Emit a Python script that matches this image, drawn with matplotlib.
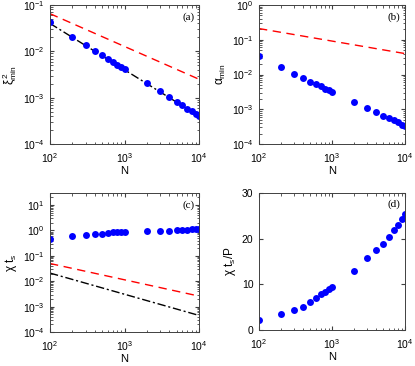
import numpy as np
import matplotlib.pyplot as plt

# ============================== DATA ==============================
N = [100, 200, 300, 400, 500, 600, 700, 800, 900, 1000,
     2000, 3000, 4000, 5000, 6000, 7000, 8000, 9000, 10000]

xi2_min = [0.042, 0.020, 0.0135, 0.0102, 0.0082, 0.0070, 0.0058, 0.0051, 0.0045, 0.0041,
           0.0021, 0.0014, 0.00102, 0.00082, 0.00068, 0.00058, 0.00051, 0.00045, 0.00041]
alpha_min = [0.033, 0.016, 0.0105, 0.0080, 0.0062, 0.0052, 0.0046, 0.0039, 0.0036, 0.0032,
             0.0016, 0.0011, 0.00082, 0.00065, 0.00055, 0.00050, 0.00042, 0.00036, 0.00034]
chi_ts = [0.45, 0.58, 0.68, 0.73, 0.76, 0.80, 0.85, 0.87, 0.87, 0.87,
          0.95, 0.97, 0.99, 1.05, 1.07, 1.08, 1.10, 1.12, 1.15]
chi_ts_P = [2.2, 3.4, 4.4, 5.1, 6.1, 6.9, 7.9, 8.4, 9.0, 9.4,
            13.0, 15.8, 17.5, 18.9, 20.4, 22.0, 23.1, 24.4, 25.4]

# reference lines (endpoints at N=1e2 and N=1e4)
Nref = [100, 10000]
a_red = [0.065, 0.0025]
a_black = [0.040, 0.0004]
b_red = [0.21, 0.040]
c_red = [0.050, 0.0026]
c_black = [0.021, 0.00045]

# ============================== PLOT STUFF ==============================
plt.rcParams['font.family'] = 'Liberation Sans'
plt.rcParams['font.size'] = 7
plt.rcParams['mathtext.fontset'] = 'custom'
plt.rcParams['mathtext.rm'] = 'Liberation Sans'
plt.rcParams['mathtext.it'] = 'Liberation Sans'

fig = plt.figure(figsize=(4.15, 3.66), dpi=100)
W, H = 415.0, 366.0

def mkax(l, r, t, b):
    return fig.add_axes([l/W, 1-b/H, (r-l)/W, (b-t)/H])

ax_a = mkax(50, 199, 5, 144)
ax_b = mkax(259, 405, 5, 144)
ax_c = mkax(50, 199, 193, 332)
ax_d = mkax(259, 405, 193, 330)

dot = dict(marker='o', ls='none', color='#0000ff', ms=5.0, mew=0)
red = dict(color='#ff0000', ls=(0, (6, 4)), lw=1.0)
blk = dict(color='black', ls=(0, (6, 2, 1.5, 2)), lw=1.0)

def style(ax, lbl, logy=True):
    ax.set_xscale('log')
    if logy:
        ax.set_yscale('log')
    ax.set_xlim(1e2, 1e4)
    ax.tick_params(which='both', direction='in', top=True, right=True,
                   color='#404040', labelsize=7.5)
    ax.tick_params(axis='x', pad=5)
    ax.tick_params(axis='y', pad=4)
    ax.tick_params(which='major', length=3)
    ax.tick_params(which='minor', length=1.8)
    for s in ax.spines.values():
        s.set_color('#404040')
        s.set_linewidth(0.7)
    ax.set_xlabel('N', fontsize=8, labelpad=1)
    ax.text(0.97, 0.95, lbl, transform=ax.transAxes, ha='right', va='top',
            family='Liberation Serif', fontsize=8)

# (a)
ax_a.plot(Nref, a_red, **red)
ax_a.plot(Nref, a_black, **blk)
ax_a.plot(N, xi2_min, **dot)
style(ax_a, '(a)')
ax_a.set_ylim(1e-4, 1e-1)
ax_a.set_ylabel(r'$\xi^2_{\rm min}$', fontsize=8.5, labelpad=3)

# (b)
ax_b.plot(Nref, b_red, **red)
ax_b.plot(N, alpha_min, **dot)
style(ax_b, '(b)')
ax_b.set_ylim(1e-4, 1e0)
ax_b.set_ylabel(r'$\alpha_{\rm min}$', fontsize=8.5, labelpad=3)

# (c)
ax_c.plot(Nref, c_red, **red)
ax_c.plot(Nref, c_black, **blk)
ax_c.plot(N, chi_ts, **dot)
style(ax_c, '(c)')
ax_c.set_ylim(1e-4, 3e1)
ax_c.set_yticks([1e-4, 1e-3, 1e-2, 1e-1, 1e0, 1e1])
ax_c.set_ylabel(r'$\chi\ t_{\rm s}$', fontsize=8.5, labelpad=3)

# (d)
ax_d.plot(N, chi_ts_P, **dot)
style(ax_d, '(d)', logy=False)
ax_d.set_ylim(0, 30)
ax_d.set_yticks([0, 10, 20, 30])
ax_d.set_ylabel(r'$\chi\ t_{\rm s}/{\rm P}$', fontsize=8.5, labelpad=3)

plt.savefig('out.png', dpi=100)
